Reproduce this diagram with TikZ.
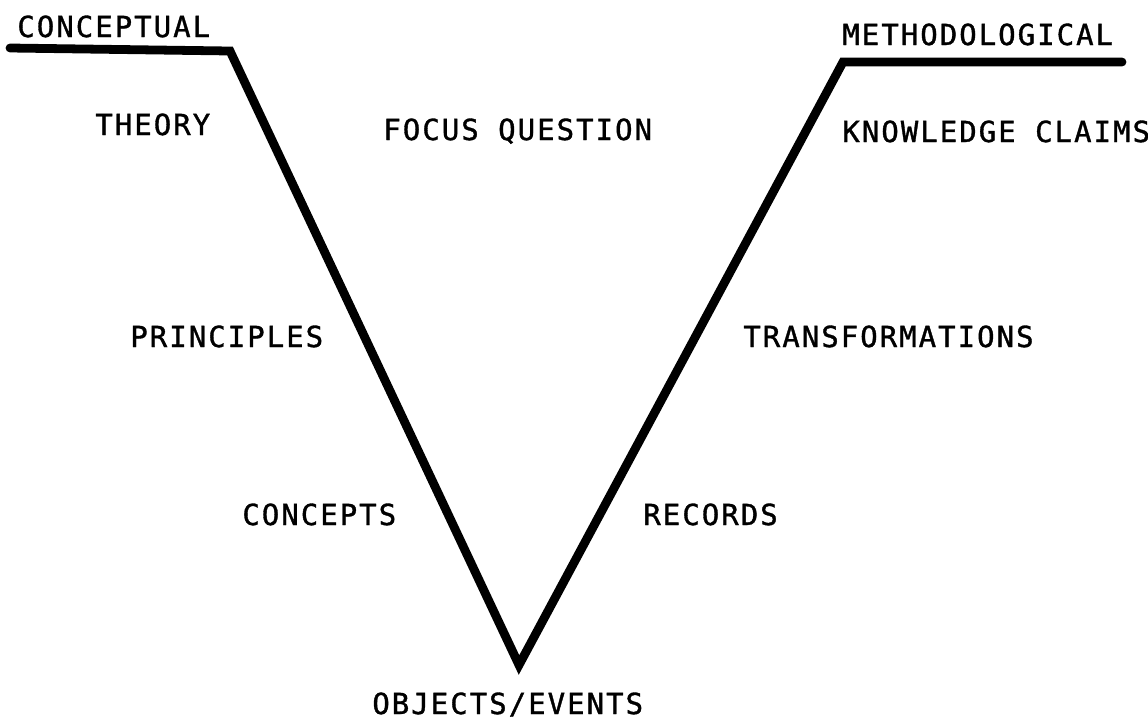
\documentclass[tikz,border=0pt]{standalone}
\usepackage{fontspec}
\usepackage{tikz}
\usetikzlibrary{positioning}
\newfontfamily\typewriter[LetterSpace=7, FakeBold=1.2]{DejaVu Sans Mono}
\tikzset{
    vlabel/.style={anchor=base west, inner sep=0pt, font=\typewriter\fontsize{16.5}{18}\selectfont},
    vline/.style={draw, black, line width=5pt, line join=miter, line cap=round}
}

\begin{document}
\begin{tikzpicture}[x=0.02cm, y=-0.02cm]
        \useasboundingbox (0,0) rectangle (1148,721);

        % corners of the V
        \coordinate (leftend) at (10,48);
        \coordinate (leftcorner) at (230,51);
        \coordinate (apex) at (519,665);
        \coordinate (rightcorner) at (843,62);
        \coordinate (rightend) at (1122,62);

        \draw[vline] (leftend) -- (leftcorner) -- (apex) -- (rightcorner) -- (rightend);

        % left side
        \node[vlabel] (conceptual) at (17,37) {CONCEPTUAL};
        \node[vlabel] (theory) at (95,135) {THEORY};
        \node[vlabel] (principles) at (130,347) {PRINCIPLES};
        \node[vlabel] (concepts) at (242,525) {CONCEPTS};

        % middle
        \node[vlabel] (focus) at (383,140) {FOCUS QUESTION};
        \node[vlabel] (objects) at (372,714) {OBJECTS/EVENTS};

        % right side
        \node[vlabel] (methodological) at (842,45) {METHODOLOGICAL};
        \node[vlabel] (claims) at (842,142) {KNOWLEDGE CLAIMS};
        \node[vlabel] (transformations) at (743,347) {TRANSFORMATIONS};
        \node[vlabel] (records) at (643,525) {RECORDS};
    \end{tikzpicture}
\end{document}
